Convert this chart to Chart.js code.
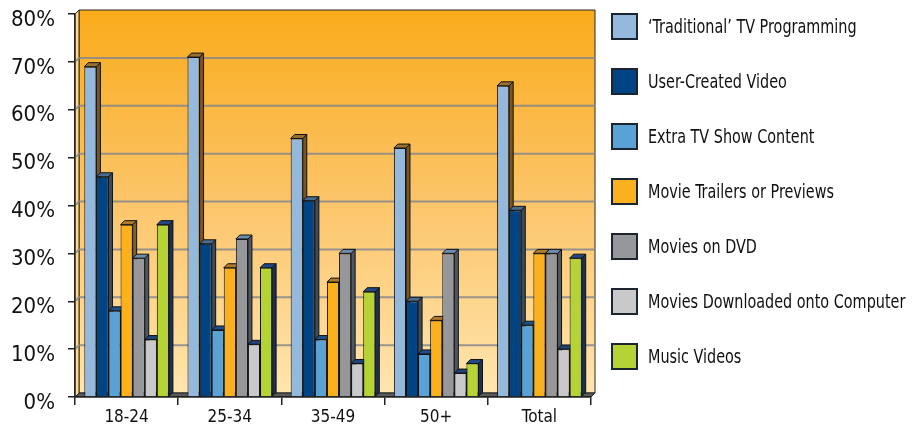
<!DOCTYPE html>
<html>
<head>
  <meta charset="utf-8">
  <title>Video content viewed by age group</title>
  <script src="https://cdn.jsdelivr.net/npm/chart.js"></script>
  <style>
    html, body { margin: 0; padding: 0; background: #fff; }
    #wrap { position: relative; width: 917px; height: 432px; }
    #legend { position: absolute; left: 611px; top: 13px; margin: 0; padding: 0; list-style: none;
              font-family: 'DejaVu Sans Condensed', sans-serif; font-size: 20px; color: #111; }
    #legend li { height: 26px; margin-bottom: 29px; display: flex; align-items: center; white-space: nowrap; }
    #legend span.box { width: 23px; height: 23px; border: 2px solid #1c2430; margin-right: 10px; flex: none; }
    #legend span.txt { display: inline-block; transform: scaleX(0.8); transform-origin: left center; }
  </style>
</head>
<body>
<div id="wrap">
  <canvas id="chart" width="917" height="432"></canvas>
  <ul id="legend"></ul>
</div>
<script>
  const categories = ['18-24', '25-34', '35-49', '50+', 'Total'];
  const seriesNames = [
    '\u2018Traditional\u2019 TV Programming',
    'User-Created Video',
    'Extra TV Show Content',
    'Movie Trailers or Previews',
    'Movies on DVD',
    'Movies Downloaded onto Computer',
    'Music Videos'
  ];
  const traditionalTv = [69, 71, 54, 52, 65];
  const userCreated = [46, 32, 41, 20, 39];
  const extraContent = [18, 14, 12, 9, 15];
  const trailers = [36, 27, 24, 16, 30];
  const moviesDvd = [29, 33, 30, 30, 30];
  const downloaded = [12, 11, 7, 5, 10];
  const musicVideos = [36, 27, 22, 7, 29];
  const yTicks = [0, 10, 20, 30, 40, 50, 60, 70, 80];

  const seriesValues = [traditionalTv, userCreated, extraContent, trailers, moviesDvd, downloaded, musicVideos];
  const frontColors = ['#95B8DD', '#004483', '#5AA2D6', '#FBB01D', '#96979B', '#C9C9CB', '#B5D335'];
  const sideColors = ['#7A5522', '#3C4C5C', '#2A4A70', '#8A5E1A', '#4C5866', '#2C3C50', '#1E3050'];
  const topColors = ['#9A7030', '#4A6C90', '#1D4F8A', '#B07A28', '#6E8CAE', '#1F4478', '#1F4A85'];

  const FONT = "'DejaVu Sans Condensed', sans-serif";
  const DX = 4, DY = -4;

  // legend (html)
  const legend = document.getElementById('legend');
  seriesNames.forEach((name, i) => {
    const li = document.createElement('li');
    const box = document.createElement('span');
    box.className = 'box';
    box.style.background = frontColors[i];
    const txt = document.createElement('span');
    txt.className = 'txt';
    txt.textContent = name;
    li.appendChild(box);
    li.appendChild(txt);
    legend.appendChild(li);
  });

  function poly(ctx, pts, fill, stroke) {
    ctx.beginPath();
    ctx.moveTo(pts[0][0], pts[0][1]);
    for (let i = 1; i < pts.length; i++) ctx.lineTo(pts[i][0], pts[i][1]);
    ctx.closePath();
    ctx.fillStyle = fill;
    ctx.fill();
    if (stroke) { ctx.strokeStyle = stroke; ctx.lineWidth = 1; ctx.stroke(); }
  }

  // back wall, left wall, floor and gridlines
  const walls = {
    id: 'walls',
    beforeDraw(chart) {
      const {ctx, chartArea: a} = chart;
      const y = chart.scales.y;
      ctx.save();
      const g = ctx.createLinearGradient(0, a.top + DY, 0, a.bottom + DY);
      g.addColorStop(0, '#F9AB1B');
      g.addColorStop(0.5, '#FCC56A');
      g.addColorStop(1, '#FFE5AE');
      poly(ctx, [[a.left + DX, a.top + DY], [a.right + DX, a.top + DY], [a.right + DX, a.bottom + DY], [a.left + DX, a.bottom + DY]], g, '#2a2a2a');
      poly(ctx, [[a.left, a.top], [a.left + DX, a.top + DY], [a.left + DX, a.bottom + DY], [a.left, a.bottom]], '#FFD98E', '#2a2a2a');
      ctx.strokeStyle = 'rgba(135,135,140,0.85)';
      ctx.lineWidth = 2;
      yTicks.slice(1, -1).forEach(v => {
        const py = y.getPixelForValue(v);
        ctx.beginPath();
        ctx.moveTo(a.left, py);
        ctx.lineTo(a.left + DX, py + DY);
        ctx.lineTo(a.right + DX, py + DY);
        ctx.stroke();
      });
      poly(ctx, [[a.left, a.bottom], [a.left + DX, a.bottom + DY], [a.right + DX, a.bottom + DY], [a.right, a.bottom]], '#5a5a5a', '#222');
      ctx.restore();
    }
  };

  // bars drawn series by series, left to right, each with side and top faces
  const bars3d = {
    id: 'bars3d',
    beforeDatasetsDraw(chart) {
      const {ctx} = chart;
      ctx.save();
      chart.data.datasets.forEach((ds, i) => {
        chart.getDatasetMeta(i).data.forEach(bar => {
          const {x, y, base, width} = bar.getProps(['x', 'y', 'base', 'width'], true);
          const l = x - width / 2, r = x + width / 2;
          poly(ctx, [[r, y], [r + DX, y + DY], [r + DX, base + DY], [r, base]], sideColors[i], '#111');
          poly(ctx, [[l, y], [l + DX, y + DY], [r + DX, y + DY], [r, y]], topColors[i], '#111');
          bar.draw(ctx);
        });
      });
      ctx.restore();
    },
    beforeDatasetDraw() { return false; }
  };

  new Chart(document.getElementById('chart'), {
    type: 'bar',
    data: {
      labels: categories,
      datasets: seriesNames.map((name, i) => ({
        label: name,
        data: seriesValues[i],
        backgroundColor: frontColors[i],
        borderColor: '#111',
        borderWidth: 1,
        categoryPercentage: 0.82,
        barPercentage: 1
      }))
    },
    options: {
      responsive: false,
      animation: false,
      layout: { padding: { top: 14, right: 326, bottom: 0, left: 0 } },
      plugins: { legend: { display: false }, tooltip: { enabled: false } },
      scales: {
        x: {
          afterFit(scale) { scale.height = 35; scale.paddingLeft = 0; scale.paddingRight = 0; },
          grid: { offset: true, drawOnChartArea: false, drawTicks: true, tickLength: 8, color: '#222', lineWidth: 1.5 },
          border: { display: true, color: '#222', width: 1.5 },
          ticks: { color: '#111', padding: 2, font: { family: FONT, size: 17 } }
        },
        y: {
          min: 0,
          max: 80,
          afterFit(scale) { scale.width = 75; scale.paddingTop = 0; scale.paddingBottom = 0; },
          afterBuildTicks(scale) { scale.ticks = yTicks.map(v => ({value: v})); },
          grid: { drawOnChartArea: false, drawTicks: true, tickLength: 7, color: '#222', lineWidth: 1.5 },
          border: { display: true, color: '#222', width: 1.5 },
          ticks: {
            color: '#111',
            padding: 13,
            labelOffset: 6,
            font: { family: FONT, size: 22, lineHeight: 1 },
            callback: v => v + '%'
          }
        }
      }
    },
    plugins: [walls, bars3d]
  });
</script>
</body>
</html>
